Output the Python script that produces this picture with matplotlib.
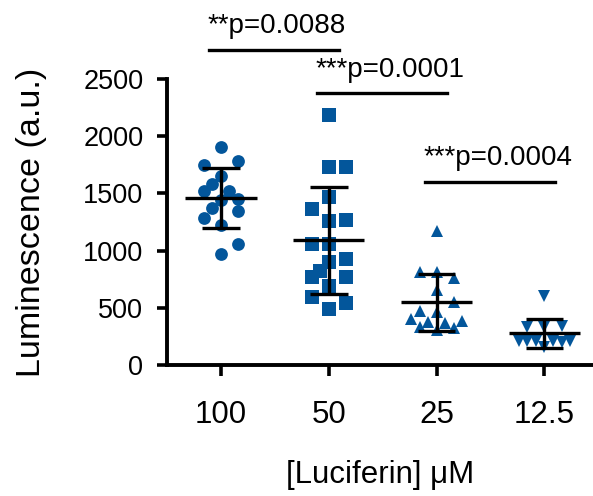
import matplotlib
matplotlib.use('Agg')
import matplotlib.pyplot as plt
import numpy as np

# luminescence values per luciferin concentration
GROUPS = ['100', '50', '25', '12.5']
LUM_100 = [1903, 1751, 1781, 1655, 1580, 1518, 1521, 1440, 1451, 1375, 1349, 1285, 1224, 1060, 970]
LUM_50 = [2185, 1731, 1731, 1469, 1366, 1262, 1268, 1058, 1058, 900, 927, 824, 769, 769, 691, 594, 542, 490]
LUM_25 = [1175, 816, 816, 758, 656, 554, 472, 467, 402, 373, 385, 336, 365, 321, 306]
LUM_12 = [607, 336, 336, 345, 214, 207, 214, 161, 214, 199, 214]

# column slots used to spread the points horizontally
SLOT_100 = [0, -2, 2, 0, -1, -2, 1, 0, 2, -1, 2, -2, 0, 2, 0]
SLOT_50 = [0, 0, 2, 0, -2, 0, 2, -2, 0, 0, 2, -1, -2, 2, 0, -2, 2, 0]
SLOT_25 = [0, -2, 0, 2, 0, 2, -2, 0, -3, -1, 3, -2, 1, 2, 0]
SLOT_12 = [0, -2, 0, 2, -3, -2, -1, 0, 1, 2, 3]

# comparisons: (group a, group b, label)
COMPARISONS = [(0, 1, '**p=0.0088'), (1, 2, '***p=0.0001'), (2, 3, '***p=0.0004')]
BRACKET_Y = [2753, 2380, 1602]
LABEL_Y = [2899, 2520, 1748]

plt.rcParams['font.family'] = ['Liberation Sans', 'DejaVu Sans']

BLUE = '#03569b'
MARKERS = ['o', 's', '^', 'v']
MSIZE = [9.2, 9.4, 8.8, 8.6]

fig = plt.figure(figsize=(5.93, 4.96), dpi=100)
ax = fig.add_axes([0.2816, 0.2641, 0.7184, 0.5766])

values = [LUM_100, LUM_50, LUM_25, LUM_12]
slots = [SLOT_100, SLOT_50, SLOT_25, SLOT_12]
step = 0.079

for i, (vals, sl) in enumerate(zip(values, slots)):
    vals = np.array(vals, dtype=float)
    xs = i + step * np.array(sl)
    ax.plot(xs, vals, linestyle='none', marker=MARKERS[i], markersize=MSIZE[i],
            color=BLUE, markeredgewidth=0, zorder=2)
    m = vals.mean()
    sd = vals.std(ddof=1)
    ax.hlines(m, i - 0.33, i + 0.33, color='black', lw=2.4, zorder=3)
    ax.vlines(i, m - sd, m + sd, color='black', lw=2.4, zorder=3)
    ax.hlines([m - sd, m + sd], i - 0.175, i + 0.175, color='black', lw=2.4, zorder=3)

for (a, b, label), by, ty in zip(COMPARISONS, BRACKET_Y, LABEL_Y):
    ax.plot([a - 0.108, b + 0.095], [by, by], color='black', lw=2.4, clip_on=False)
    ax.text(a - 0.12, ty, label, fontsize=20, ha='left', va='baseline', clip_on=False)

ax.set_xlim(-0.5, 3.45)
ax.set_ylim(0, 2500)
ax.set_xticks(range(len(GROUPS)))
ax.set_xticklabels(GROUPS)
ax.set_yticks([0, 500, 1000, 1500, 2000, 2500])

for s in ['top', 'right']:
    ax.spines[s].set_visible(False)
for s in ['left', 'bottom']:
    ax.spines[s].set_linewidth(2.8)

ax.tick_params(axis='y', length=7, width=2.6, labelsize=19.5, pad=10)
ax.tick_params(axis='x', length=8, width=2.6, labelsize=22.5, pad=17)

ax.set_ylabel('Luminescence (a.u.)', fontsize=24.5, labelpad=26)
ax.set_xlabel('[Luciferin] μM', fontsize=22.5, labelpad=22)

plt.savefig('out.png', dpi=100)
